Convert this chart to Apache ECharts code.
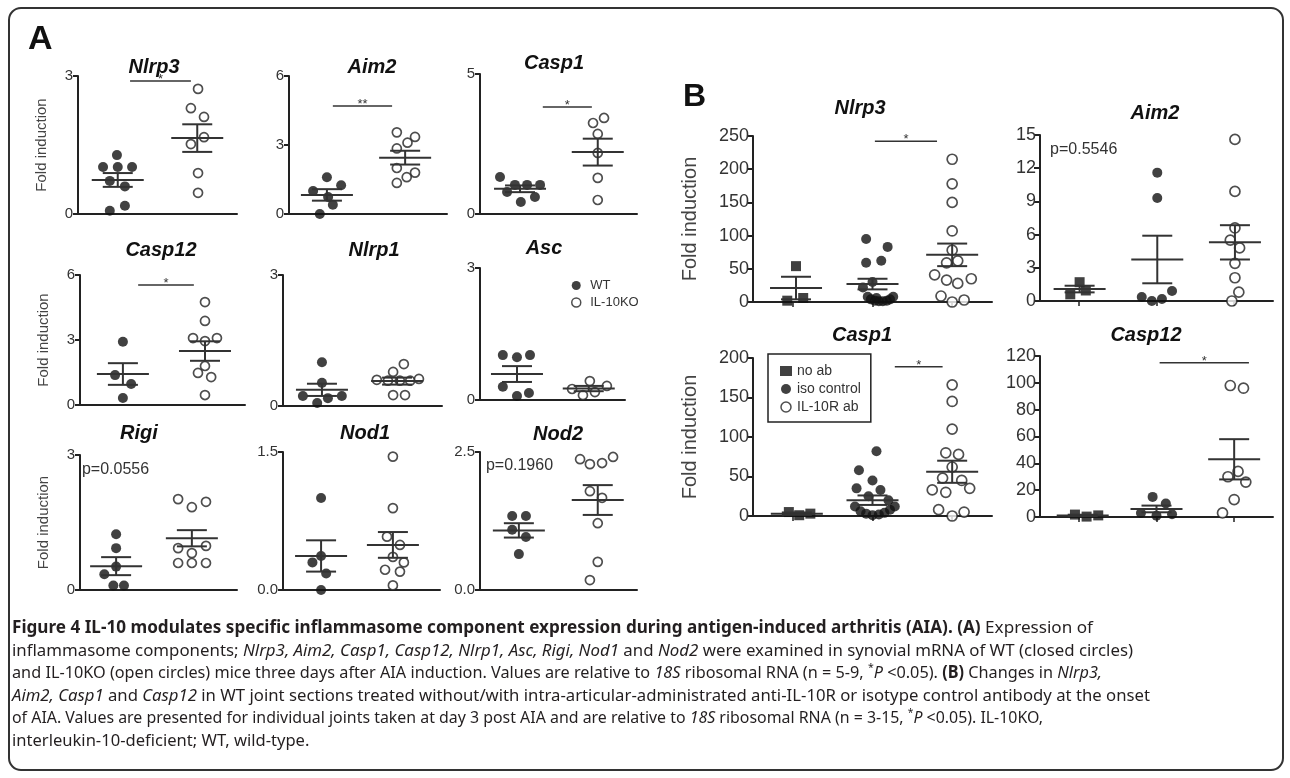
<!DOCTYPE html>
<html><head><meta charset="utf-8">
<script src="https://cdn.jsdelivr.net/npm/echarts@6/dist/echarts.min.js"></script>
<style>html,body{margin:0;padding:0;background:#fff}#c{width:1290px;height:778px}</style>
</head><body><div id="c"></div>
<script>
// ================= DATA =================
// Panel A points: [position within panel (0-4 scale), fold induction]
const A_Nlrp3_WT = [[0.98,1.28],[0.63,1.02],[1.0,1.02],[1.36,1.02],[0.8,0.72],[1.18,0.60],[1.18,0.18],[0.8,0.07]];
const A_Nlrp3_KO = [[3.02,2.72],[2.84,2.30],[3.17,2.11],[3.17,1.67],[2.84,1.52],[3.02,0.89],[3.02,0.46]];
const A_Nlrp3_pos = [1.0, 3.0], A_Nlrp3_mean = [0.74, 1.65], A_Nlrp3_sem = [0.15, 0.30];
const A_Nlrp3_sig = [1.31, 2.84, 2.89], A_Nlrp3_sigText = '*';

const A_Aim2_WT = [[0.96,1.6],[1.32,1.25],[0.61,1.0],[0.99,0.74],[1.11,0.4],[0.78,0.0]];
const A_Aim2_KO = [[2.73,3.55],[3.19,3.35],[3.0,3.1],[2.73,2.85],[2.73,2.0],[3.19,1.8],[2.98,1.6],[2.73,1.35]];
const A_Aim2_pos = [0.96, 2.94], A_Aim2_mean = [0.83, 2.45], A_Aim2_sem = [0.25, 0.30];
const A_Aim2_sig = [1.11, 2.61, 4.7], A_Aim2_sigText = '**';

const A_Casp1_WT = [[0.51,1.32],[0.69,0.79],[0.89,1.04],[1.2,1.04],[1.53,1.04],[1.04,0.43],[1.4,0.61]];
const A_Casp1_KO = [[2.88,3.25],[3.16,3.43],[3.0,2.86],[3.0,2.18],[3.0,1.29],[3.0,0.5]];
const A_Casp1_pos = [1.02, 3.0], A_Casp1_mean = [0.90, 2.21], A_Casp1_sem = [0.12, 0.48];
const A_Casp1_sig = [1.6, 2.85, 3.82], A_Casp1_sigText = '*';

const A_Casp12_WT = [[1.04,2.92],[0.85,1.38],[1.24,0.97],[1.04,0.32]];
const A_Casp12_KO = [[3.03,4.75],[3.03,3.88],[2.74,3.09],[3.32,3.09],[3.03,2.95],[3.03,1.8],[2.86,1.48],[3.18,1.29],[3.03,0.46]];
const A_Casp12_pos = [1.04, 3.03], A_Casp12_mean = [1.43, 2.49], A_Casp12_sem = [0.5, 0.45];
const A_Casp12_sig = [1.41, 2.76, 5.54], A_Casp12_sigText = '*';

const A_Nlrp1_WT = [[0.98,1.0],[0.98,0.53],[0.5,0.23],[1.13,0.18],[1.48,0.23],[0.86,0.07]];
const A_Nlrp1_KO = [[3.04,0.96],[2.77,0.78],[2.36,0.6],[2.64,0.58],[2.94,0.58],[3.2,0.58],[3.42,0.62],[2.77,0.25],[3.07,0.25]];
const A_Nlrp1_pos = [0.98, 2.87], A_Nlrp1_mean = [0.37, 0.57], A_Nlrp1_sem = [0.14, 0.08];

const A_Asc_WT = [[0.63,1.02],[1.02,0.97],[1.38,1.02],[0.63,0.30],[1.02,0.09],[1.35,0.16]];
const A_Asc_KO = [[2.54,0.25],[3.03,0.43],[2.84,0.11],[3.17,0.18],[3.5,0.32]];
const A_Asc_pos = [1.02, 3.0], A_Asc_mean = [0.59, 0.26], A_Asc_sem = [0.18, 0.06];

const A_Rigi_WT = [[0.92,1.24],[0.92,0.93],[0.92,0.52],[0.62,0.35],[0.85,0.1],[1.12,0.1]];
const A_Rigi_KO = [[2.5,2.02],[2.85,1.84],[3.21,1.96],[2.5,0.93],[2.85,0.82],[3.21,0.98],[2.5,0.6],[2.85,0.6],[3.21,0.6]];
const A_Rigi_pos = [0.92, 2.85], A_Rigi_mean = [0.53, 1.15], A_Rigi_sem = [0.2, 0.18];
const A_Rigi_note = [0.05, 2.67], A_Rigi_noteText = 'p=0.0556';

const A_Nod1_WT = [[0.97,1.0],[0.97,0.37],[0.75,0.30],[1.1,0.18],[0.97,0.0]];
const A_Nod1_KO = [[2.8,1.45],[2.8,0.89],[2.65,0.58],[2.98,0.49],[2.8,0.36],[3.08,0.30],[2.6,0.22],[2.98,0.2],[2.8,0.05]];
const A_Nod1_pos = [0.97, 2.8], A_Nod1_mean = [0.37, 0.49], A_Nod1_sem = [0.17, 0.14];

const A_Nod2_WT = [[0.82,1.34],[1.17,1.34],[0.82,1.09],[1.17,0.96],[0.99,0.65]];
const A_Nod2_KO = [[2.55,2.37],[2.8,2.28],[3.11,2.30],[3.39,2.41],[2.8,1.79],[3.11,1.67],[3.0,1.21],[3.0,0.51],[2.8,0.18]];
const A_Nod2_pos = [0.99, 3.0], A_Nod2_mean = [1.08, 1.63], A_Nod2_sem = [0.13, 0.27];
const A_Nod2_note = [0.15, 2.26], A_Nod2_noteText = 'p=0.1960';

// Panel B points: [position within panel (0-3 scale), fold induction]
const B_Nlrp3_noab = [[0.54,54],[0.43,2],[0.63,6]];
const B_Nlrp3_iso = [[1.42,95],[1.69,83],[1.61,62],[1.42,59],[1.5,30],[1.38,22],[1.44,8],[1.48,4],[1.53,2],[1.58,1],[1.63,1],[1.68,2],[1.72,4],[1.76,8],[1.55,6]];
const B_Nlrp3_il10r = [[2.5,215],[2.5,178],[2.5,150],[2.5,107],[2.5,78],[2.43,59],[2.57,62],[2.28,41],[2.43,33],[2.57,28],[2.74,35],[2.36,9],[2.5,0],[2.65,3]];
const B_Nlrp3_pos = [0.54, 1.5, 2.5], B_Nlrp3_mean = [21, 27, 71], B_Nlrp3_sem = [17, 8, 17];
const B_Nlrp3_sig = [1.53, 2.31, 242], B_Nlrp3_sigText = '*';

const B_Aim2_noab = [[0.51,1.7],[0.39,0.6],[0.59,0.95]];
const B_Aim2_iso = [[1.51,11.6],[1.51,9.3],[1.31,0.36],[1.44,0.0],[1.57,0.18],[1.7,0.9]];
const B_Aim2_il10r = [[2.51,14.6],[2.51,9.9],[2.51,6.6],[2.45,5.5],[2.57,4.8],[2.51,3.4],[2.51,2.1],[2.56,0.8],[2.47,0.0]];
const B_Aim2_pos = [0.51, 1.51, 2.51], B_Aim2_mean = [1.08, 3.75, 5.3], B_Aim2_sem = [0.3, 2.15, 1.55];
const B_Aim2_note = [0.13, 13.7], B_Aim2_noteText = 'p=0.5546';

const B_Casp1_noab = [[0.45,5],[0.58,1],[0.72,3]];
const B_Casp1_iso = [[1.55,82],[1.33,58],[1.5,45],[1.3,35],[1.6,33],[1.45,25],[1.7,20],[1.28,12],[1.35,6],[1.42,3],[1.5,1],[1.58,2],[1.65,4],[1.72,8],[1.78,12]];
const B_Casp1_il10r = [[2.5,166],[2.5,145],[2.5,110],[2.42,80],[2.58,78],[2.5,62],[2.38,48],[2.62,45],[2.25,33],[2.42,30],[2.72,35],[2.33,8],[2.5,0],[2.65,5]];
const B_Casp1_pos = [0.55, 1.5, 2.5], B_Casp1_mean = [3, 20, 56], B_Casp1_sem = [1.5, 6, 14];
const B_Casp1_sig = [1.78, 2.38, 189], B_Casp1_sigText = '*';

const B_Casp12_noab = [[0.45,1.8],[0.6,0.3],[0.75,1.2]];
const B_Casp12_iso = [[1.45,15],[1.62,10],[1.3,3],[1.5,1],[1.7,2]];
const B_Casp12_il10r = [[2.45,98],[2.62,96],[2.55,34],[2.42,30],[2.65,26],[2.5,13],[2.35,3]];
const B_Casp12_pos = [0.55, 1.5, 2.5], B_Casp12_mean = [1.2, 6, 43], B_Casp12_sem = [0.5, 2.5, 15];
const B_Casp12_sig = [1.54, 2.69, 115], B_Casp12_sigText = '*';

const groupNamesA = ['WT', 'IL-10KO'];
const groupNamesB = ['no ab', 'iso control', 'IL-10R ab'];
const yLabel = 'Fold induction';

const captionLines = [
  [['b','Figure 4 IL-10 modulates specific inflammasome component expression during antigen-induced arthritis (AIA). (A)'],['r',' Expression of']],
  [['r','inflammasome components; '],['i','Nlrp3, Aim2, Casp1, Casp12, Nlrp1, Asc, Rigi, Nod1'],['r',' and '],['i','Nod2'],['r',' were examined in synovial mRNA of WT (closed circles)']],
  [['r','and IL-10KO (open circles) mice three days after AIA induction. Values are relative to '],['i','18S'],['r',' ribosomal RNA (n = 5-9, '],['s','*'],['i','P'],['r',' <0.05). '],['b','(B)'],['r',' Changes in '],['i','Nlrp3,']],
  [['i','Aim2, Casp1'],['r',' and '],['i','Casp12'],['r',' in WT joint sections treated without/with intra-articular-administrated anti-IL-10R or isotype control antibody at the onset']],
  [['r','of AIA. Values are presented for individual joints taken at day 3 post AIA and are relative to '],['i','18S'],['r',' ribosomal RNA (n = 3-15, '],['s','*'],['i','P'],['r',' <0.05). IL-10KO,']],
  [['r','interleukin-10-deficient; WT, wild-type.']]
];

// ================= DATA BINDING =================
const panelData = {
  A_Nlrp3: {groups:[A_Nlrp3_WT, A_Nlrp3_KO], pos:A_Nlrp3_pos, mean:A_Nlrp3_mean, sem:A_Nlrp3_sem, sig:A_Nlrp3_sig, sigText:A_Nlrp3_sigText},
  A_Aim2: {groups:[A_Aim2_WT, A_Aim2_KO], pos:A_Aim2_pos, mean:A_Aim2_mean, sem:A_Aim2_sem, sig:A_Aim2_sig, sigText:A_Aim2_sigText},
  A_Casp1: {groups:[A_Casp1_WT, A_Casp1_KO], pos:A_Casp1_pos, mean:A_Casp1_mean, sem:A_Casp1_sem, sig:A_Casp1_sig, sigText:A_Casp1_sigText},
  A_Casp12: {groups:[A_Casp12_WT, A_Casp12_KO], pos:A_Casp12_pos, mean:A_Casp12_mean, sem:A_Casp12_sem, sig:A_Casp12_sig, sigText:A_Casp12_sigText},
  A_Nlrp1: {groups:[A_Nlrp1_WT, A_Nlrp1_KO], pos:A_Nlrp1_pos, mean:A_Nlrp1_mean, sem:A_Nlrp1_sem},
  A_Asc: {groups:[A_Asc_WT, A_Asc_KO], pos:A_Asc_pos, mean:A_Asc_mean, sem:A_Asc_sem},
  A_Rigi: {groups:[A_Rigi_WT, A_Rigi_KO], pos:A_Rigi_pos, mean:A_Rigi_mean, sem:A_Rigi_sem, note:A_Rigi_note, noteText:A_Rigi_noteText},
  A_Nod1: {groups:[A_Nod1_WT, A_Nod1_KO], pos:A_Nod1_pos, mean:A_Nod1_mean, sem:A_Nod1_sem},
  A_Nod2: {groups:[A_Nod2_WT, A_Nod2_KO], pos:A_Nod2_pos, mean:A_Nod2_mean, sem:A_Nod2_sem, note:A_Nod2_note, noteText:A_Nod2_noteText},
  B_Nlrp3: {groups:[B_Nlrp3_noab, B_Nlrp3_iso, B_Nlrp3_il10r], pos:B_Nlrp3_pos, mean:B_Nlrp3_mean, sem:B_Nlrp3_sem, sig:B_Nlrp3_sig, sigText:B_Nlrp3_sigText},
  B_Aim2: {groups:[B_Aim2_noab, B_Aim2_iso, B_Aim2_il10r], pos:B_Aim2_pos, mean:B_Aim2_mean, sem:B_Aim2_sem, note:B_Aim2_note, noteText:B_Aim2_noteText},
  B_Casp1: {groups:[B_Casp1_noab, B_Casp1_iso, B_Casp1_il10r], pos:B_Casp1_pos, mean:B_Casp1_mean, sem:B_Casp1_sem, sig:B_Casp1_sig, sigText:B_Casp1_sigText},
  B_Casp12: {groups:[B_Casp12_noab, B_Casp12_iso, B_Casp12_il10r], pos:B_Casp12_pos, mean:B_Casp12_mean, sem:B_Casp12_sem, sig:B_Casp12_sig, sigText:B_Casp12_sigText}
};

// ================= LAYOUT =================
const panels = [
  {id:'A_Nlrp3', title:'Nlrp3', tx:154, ty:67, L:78, R:237, T:76, B:214, max:3, step:3, dec:0, yName:true},
  {id:'A_Aim2', title:'Aim2', tx:372, ty:67, L:289, R:447, T:76, B:214, max:6, step:3, dec:0},
  {id:'A_Casp1', title:'Casp1', tx:554, ty:63, L:480, R:637, T:74, B:214, max:5, step:5, dec:0},
  {id:'A_Casp12', title:'Casp12', tx:161, ty:250, L:80, R:245, T:275, B:405, max:6, step:3, dec:0, yName:true},
  {id:'A_Nlrp1', title:'Nlrp1', tx:374, ty:250, L:283, R:442, T:275, B:406, max:3, step:3, dec:0},
  {id:'A_Asc', title:'Asc', tx:544, ty:248, L:480, R:625, T:268, B:400, max:3, step:3, dec:0},
  {id:'A_Rigi', title:'Rigi', tx:139, ty:433, L:80, R:237, T:455, B:590, max:3, step:3, dec:0, yName:true},
  {id:'A_Nod1', title:'Nod1', tx:365, ty:433, L:283, R:440, T:452, B:590, max:1.5, step:1.5, dec:1},
  {id:'A_Nod2', title:'Nod2', tx:558, ty:434, L:480, R:637, T:452, B:590, max:2.5, step:2.5, dec:1},
  {id:'B_Nlrp3', title:'Nlrp3', tx:860, ty:108, L:753, R:992, T:136, B:302, max:250, step:50, dec:0, yName:true},
  {id:'B_Aim2', title:'Aim2', tx:1155, ty:113, L:1040, R:1273, T:135, B:301, max:15, step:3, dec:0},
  {id:'B_Casp1', title:'Casp1', tx:862, ty:335, L:753, R:992, T:358, B:516, max:200, step:50, dec:0, yName:true},
  {id:'B_Casp12', title:'Casp12', tx:1146, ty:335, L:1040, R:1273, T:356, B:517, max:120, step:20, dec:0}
];

const FONT = '"Liberation Sans", Arial, Helvetica, sans-serif';
const CAP_FONT = '"Noto Sans", "Open Sans", sans-serif';
const INK = '#222';

const symA = [
  {symbol:'circle', symbolSize:10, itemStyle:{color:'#111'}},
  {symbol:'circle', symbolSize:9, itemStyle:{color:'#fff', borderColor:'#222', borderWidth:1.7}}
];
const symB = [
  {symbol:'rect', symbolSize:10, itemStyle:{color:'#111'}},
  {symbol:'circle', symbolSize:10, itemStyle:{color:'#111'}},
  {symbol:'circle', symbolSize:10, itemStyle:{color:'#fff', borderColor:'#222', borderWidth:1.7}}
];

function meanRender(params, api) {
  const x = api.value(0), m = api.value(1), s = api.value(2);
  const c = api.coord([x, m]), t = api.coord([x, m + s]), b = api.coord([x, Math.max(0, m - s)]);
  const W = 26, w = 15, st = {stroke:'#333', lineWidth:2};
  return {type:'group', children:[
    {type:'line', shape:{x1:c[0]-W, y1:c[1], x2:c[0]+W, y2:c[1]}, style:st},
    {type:'line', shape:{x1:c[0], y1:t[1], x2:c[0], y2:b[1]}, style:st},
    {type:'line', shape:{x1:c[0]-w, y1:t[1], x2:c[0]+w, y2:t[1]}, style:st},
    {type:'line', shape:{x1:c[0]-w, y1:b[1], x2:c[0]+w, y2:b[1]}, style:st}
  ]};
}

const grids = [], xAxes = [], yAxes = [], series = [], extraX = [];
panels.forEach((p, i) => {
  const isA = p.id[0] === 'A';
  const d = panelData[p.id];
  grids.push({left:p.L, top:p.T, width:p.R - p.L, height:p.B - p.T});
  xAxes.push({type:'value', gridIndex:i, min:0, max:isA ? 4 : 3, position:'bottom',
    axisLine:{show:true, onZero:false, lineStyle:{color:INK, width:2}},
    axisTick:{show:false}, axisLabel:{show:false}, splitLine:{show:false}});
  yAxes.push({type:'value', gridIndex:i, min:0, max:p.max, interval:p.step,
    axisLine:{show:true, lineStyle:{color:INK, width:2}},
    axisTick:{show:true, length:isA ? 5 : 6, lineStyle:{color:INK, width:2}},
    axisLabel:{fontSize:isA ? 15 : 18, color:'#333', margin:isA ? 5 : 4, fontFamily:FONT,
      formatter:(v) => Number(v).toFixed(p.dec)},
    splitLine:{show:false},
    name:p.yName ? yLabel : '', nameLocation:'middle', nameRotate:90,
    nameGap:isA ? 29 : 53,
    nameTextStyle:{fontSize:isA ? 15 : 20, color:'#444', fontFamily:FONT}});
  if (!isA) {
    extraX.push({type:'category', gridIndex:i, data:groupNamesB, boundaryGap:true, position:'bottom',
      axisLine:{show:false}, axisTick:{show:true, alignWithLabel:true, length:5, lineStyle:{color:INK, width:1.5}},
      axisLabel:{show:false}, splitLine:{show:false}});
  }
  const names = isA ? groupNamesA : groupNamesB;
  const syms = isA ? symA : symB;
  d.groups.forEach((g, k) => {
    series.push(Object.assign({type:'scatter', name:names[k], xAxisIndex:i, yAxisIndex:i,
      data:g, z:2, silent:true}, syms[k]));
  });
  series.push({type:'custom', xAxisIndex:i, yAxisIndex:i, z:3, silent:true,
    data:d.pos.map((x, k) => [x, d.mean[k], d.sem[k]]), encode:{x:0, y:1},
    renderItem:meanRender});
  if (d.sig) {
    const txt = d.sigText;
    series.push({type:'custom', xAxisIndex:i, yAxisIndex:i, z:3, silent:true,
      data:[d.sig], encode:{x:[0,1], y:2},
      renderItem:(params, api) => {
        const a = api.coord([api.value(0), api.value(2)]);
        const b = api.coord([api.value(1), api.value(2)]);
        return {type:'group', children:[
          {type:'line', shape:{x1:a[0], y1:a[1], x2:b[0], y2:b[1]}, style:{stroke:'#333', lineWidth:1.5}},
          {type:'text', style:{text:txt, x:(a[0]+b[0])/2, y:a[1]+5, align:'center', verticalAlign:'bottom',
            fontSize:13, fontFamily:FONT, fill:'#333'}}
        ]};
      }});
  }
  if (d.note) {
    const txt = d.noteText;
    series.push({type:'custom', xAxisIndex:i, yAxisIndex:i, z:3, silent:true,
      data:[d.note], encode:{x:0, y:1},
      renderItem:(params, api) => {
        const a = api.coord([api.value(0), api.value(1)]);
        return {type:'text', style:{text:txt, x:a[0], y:a[1], align:'left', verticalAlign:'middle',
          fontSize:16, fontFamily:FONT, fill:'#333'}};
      }});
  }
});

// ---- titles, panel letters, border ----
const graphics = [
  {type:'rect', shape:{x:9, y:8, width:1274, height:762, r:12}, style:{fill:'none', stroke:'#333', lineWidth:2}, silent:true},
  {type:'text', x:28, y:40, style:{text:'A', fontSize:34, fontWeight:'bold', fontFamily:FONT, fill:'#111', verticalAlign:'middle'}},
  {type:'text', x:683, y:97, style:{text:'B', fontSize:32, fontWeight:'bold', fontFamily:FONT, fill:'#111', verticalAlign:'middle'}}
];
panels.forEach(p => {
  graphics.push({type:'text', x:p.tx, y:p.ty, style:{text:p.title, fontSize:20, fontWeight:'bold', fontStyle:'italic',
    fontFamily:FONT, fill:'#111', align:'center', verticalAlign:'middle'}});
});

// ---- caption (rich text, horizontally condensed to each line's length in the figure) ----
const capCtx = document.createElement('canvas').getContext('2d');
function fontFor(k) {
  return (k === 'i' ? 'italic ' : '') + (k === 'b' ? 'bold ' : '') + (k === 's' ? '11px ' : '17px ') + CAP_FONT;
}
function lineWidth(line) {
  return line.reduce((acc, [k, t]) => { capCtx.font = fontFor(k); return acc + capCtx.measureText(t).width; }, 0);
}
const capTargets = [1081, 1121, 1090, 1138, 1031];
let mSum = 0, tSum = 0;
const capScales = captionLines.map((line, k) => {
  if (k < capTargets.length) {
    const m = lineWidth(line); mSum += m; tSum += capTargets[k];
    return capTargets[k] / m;
  }
  return null;
});
const avgScale = tSum / mSum;
const capRich = {
  r:{fontFamily:CAP_FONT, fontSize:17, fill:'#231f20', lineHeight:22},
  b:{fontFamily:CAP_FONT, fontSize:17, fontWeight:'bold', fill:'#231f20', lineHeight:22},
  i:{fontFamily:CAP_FONT, fontSize:17, fontStyle:'italic', fill:'#231f20', lineHeight:22},
  s:{fontFamily:CAP_FONT, fontSize:11, fill:'#231f20', lineHeight:22, verticalAlign:'top'}
};
const capY = [628, 651, 673, 696, 718, 741];
captionLines.forEach((line, k) => {
  graphics.push({type:'text', x:12, y:capY[k], scaleX:capScales[k] || avgScale,
    style:{text:line.map(([s, t]) => '{' + s + '|' + t + '}').join(''), rich:capRich, verticalAlign:'middle', align:'left'}});
});

const option = {
  animation:false,
  backgroundColor:'#fff',
  grid:grids,
  xAxis:xAxes.concat(extraX),
  yAxis:yAxes,
  legend:[
    {left:571, top:279, orient:'vertical', itemGap:4, itemWidth:18, itemHeight:9, padding:0, selectedMode:false,
      textStyle:{fontSize:13, color:'#333', fontFamily:FONT},
      data:[{name:'WT', icon:'circle', itemStyle:{color:'#111'}},
            {name:'IL-10KO', icon:'circle', itemStyle:{color:'#fff', borderColor:'#222', borderWidth:1.5}}]},
    {left:768, top:354, orient:'vertical', itemGap:4, itemWidth:12, itemHeight:10, padding:[10,10,8,12], selectedMode:false,
      borderColor:'#222', borderWidth:1.5,
      textStyle:{fontSize:14, color:'#333', fontFamily:FONT},
      data:[{name:'no ab', icon:'rect', itemStyle:{color:'#111'}},
            {name:'iso control', icon:'circle', itemStyle:{color:'#111'}},
            {name:'IL-10R ab', icon:'circle', itemStyle:{color:'#fff', borderColor:'#222', borderWidth:1.5}}]}
  ],
  graphic:graphics,
  series:series
};
const chart = echarts.init(document.getElementById('c'));
chart.setOption(option);
</script>
</body></html>
